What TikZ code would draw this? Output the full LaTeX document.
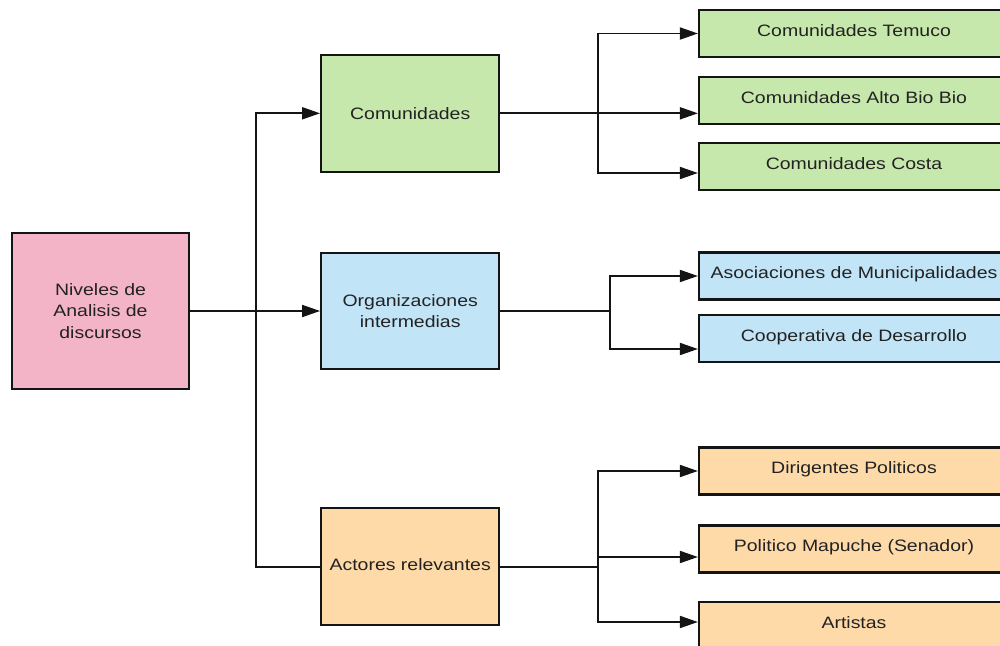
\documentclass[tikz,border=0pt]{standalone}
\usepackage{fontspec}
\setmainfont{Liberation Sans}[FakeStretch=1.18]
\usetikzlibrary{arrows.meta,positioning}
\definecolor{nivpink}  {RGB}{244,180,199}
\definecolor{comgreen} {RGB}{199,232,172}
\definecolor{orgblue}  {RGB}{193,228,247}
\definecolor{actorange}{RGB}{255,218,169}
\definecolor{inkgray}  {RGB}{20,20,20}
\definecolor{txtgray}  {RGB}{34,34,34}
\tikzset{
  mainbox/.style={draw=inkgray, line width=2.2pt, align=center, inner sep=2pt,
                  minimum width=#1, text=txtgray,
                  font=\fontsize{16.5pt}{21.5pt}\selectfont},
  mainbox/.default=178pt,
  rootbox/.style={mainbox=177pt, fill=nivpink, minimum height=156pt},
  combox/.style ={mainbox, fill=comgreen,  minimum height=117pt},
  orgbox/.style ={mainbox, fill=orgblue,   minimum height=116pt},
  actbox/.style ={mainbox, fill=actorange, minimum height=117pt},
  leafbox/.style={mainbox=310pt, minimum height=47pt,
                  text height=12pt, text depth=7pt},
  arr/.style    ={-{Triangle[length=18pt,width=12pt]}, line width=1.8pt, draw=inkgray},
  conn/.style   ={line width=1.8pt, draw=inkgray},
}
\begin{document}
\begin{tikzpicture}[x=1pt,y=1pt]
  \useasboundingbox (0,0) rectangle (1000,-645);

  \node[rootbox] (root) at (100.5,-311) {Niveles de\\Analisis de\\discursos};
  \node[orgbox, right=130pt of root] (org) {Organizaciones\\intermedias};
  \node[combox, above=79pt of org] (com) {Comunidades};
  \node[actbox, below=137pt of org, text depth=4pt] (act) {Actores relevantes};

  \node[leafbox, fill=comgreen] (ctemuco) at (854,-33.5)  {Comunidades Temuco};
  \node[leafbox, fill=comgreen] (calto)   at (854,-100.5) {Comunidades Alto Bio Bio};
  \node[leafbox, fill=comgreen] (ccosta)  at (854,-166.5) {Comunidades Costa};
  \node[leafbox, fill=orgblue]  (oasoc)   at (854,-276)   {Asociaciones de Municipalidades};
  \node[leafbox, fill=orgblue]  (ocoop)   at (854,-338.5) {Cooperativa de Desarrollo};
  \node[leafbox, fill=actorange] (adirig) at (854,-471)   {Dirigentes Politicos};
  \node[leafbox, fill=actorange] (apolit) at (854,-549)   {Politico Mapuche (Senador)};
  \node[leafbox, fill=actorange] (aart)   at (854,-625.5) {Artistas};

  \draw[arr](root.east)--(org.west);
  \draw[arr](root.east)--++(66,0)|-(com.west);
  \draw[conn](root.east)--++(66,0)|-(act.west);

  \draw[arr](com.east)--(com.east-|calto.west);
  \draw[arr](com.east)--++(98,0)|-(ctemuco.west);
  \draw[arr](com.east)--++(98,0)|-([yshift=-6.5pt]ccosta.west);

  \draw[conn](org.east)--++(110,0) coordinate (orgfork);
  \draw[arr](orgfork)|-(oasoc.west);
  \draw[arr](orgfork)|-([yshift=-10.5pt]ocoop.west);

  \draw[conn](act.east)--++(98,0) coordinate (actfork);
  \draw[arr](actfork)|-(adirig.west);
  \draw[arr](actfork)|-([yshift=-8pt]apolit.west);
  \draw[arr](actfork)|-([yshift=3.5pt]aart.west);
\end{tikzpicture}
\end{document}
